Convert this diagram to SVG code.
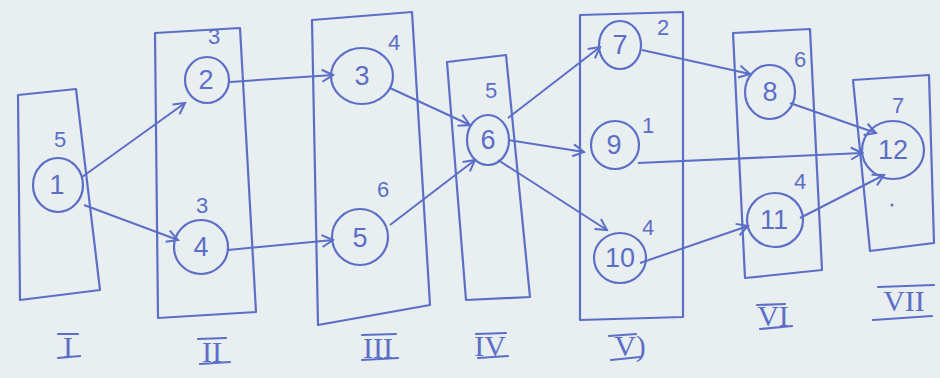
<svg xmlns="http://www.w3.org/2000/svg" width="940" height="378" viewBox="0 0 940 378">
<defs>
<style>
.ink{fill:none;stroke:#5b6fc6;stroke-width:2.2;stroke-linecap:round;stroke-linejoin:round}
.node{fill:none;stroke:#5b6fc6;stroke-width:2.2}
.lbl{font-family:"Liberation Sans",Arial,sans-serif;font-size:27px;fill:#5b6fc6;text-anchor:middle;dominant-baseline:central}
.w{font-family:"Liberation Sans",Arial,sans-serif;font-size:22px;fill:#5b6fc6;text-anchor:middle}
.rom{font-family:"Liberation Serif","Times New Roman",serif;font-size:30px;fill:#5b6fc6;text-anchor:middle}
.edge{fill:none;stroke:#5b6fc6;stroke-width:2;marker-end:url(#ah)}
</style>
<marker id="ah" viewBox="0 0 14 14" refX="12" refY="7" markerWidth="14" markerHeight="14" markerUnits="userSpaceOnUse" orient="auto">
<path d="M1,1 L12,7 L1,13" fill="none" stroke="#5b6fc6" stroke-width="2"/>
</marker>
</defs>
<rect width="940" height="378" fill="#e9eef1"/>

<g id="stages">
<polygon class="ink" points="18,95 76,89 100,290 20,300"/>
<polygon class="ink" points="155,33 240,28 256,312 158,318"/>
<polygon class="ink" points="312,20 412,12 430,305 318,325"/>
<polygon class="ink" points="447,62 506,55 530,297 466,300"/>
<polygon class="ink" points="580,15 683,12 683,317 580,320"/>
<polygon class="ink" points="733,33 810,29 822,270 745,278"/>
<polygon class="ink" points="853,80 929,75 934,243 870,251"/>
</g>

<g id="stage-labels">
<text class="rom" x="68" y="357">I</text>
<line class="ink" x1="58" y1="334" x2="78" y2="334"/><line class="ink" x1="58" y1="358" x2="80" y2="356"/>
<text class="rom" x="212" y="362">II</text>
<line class="ink" x1="198" y1="339" x2="226" y2="338"/><line class="ink" x1="200" y1="364" x2="230" y2="362"/>
<text class="rom" x="378" y="358">III</text>
<line class="ink" x1="362" y1="335" x2="396" y2="334"/><line class="ink" x1="362" y1="360" x2="398" y2="358"/>
<text class="rom" x="490" y="356">IV</text>
<line class="ink" x1="476" y1="334" x2="506" y2="333"/><line class="ink" x1="478" y1="358" x2="508" y2="356"/>
<text class="rom" x="630" y="356">V)</text>
<line class="ink" x1="609" y1="336" x2="636" y2="334"/><line class="ink" x1="611" y1="360" x2="640" y2="357"/>
<text class="rom" x="773" y="326">VI</text>
<line class="ink" x1="757" y1="305" x2="785" y2="304"/><line class="ink" x1="760" y1="329" x2="792" y2="326"/>
<text class="rom" x="904" y="311">VII</text>
<line class="ink" x1="878" y1="287" x2="934" y2="285"/><line class="ink" x1="873" y1="320" x2="932" y2="316"/>
</g>

<g id="connectors">
<line class="edge" x1="82" y1="177" x2="185" y2="103"/>
<line class="edge" x1="84" y1="205" x2="178" y2="240"/>
<line class="edge" x1="230" y1="82" x2="333" y2="75"/>
<line class="edge" x1="228" y1="250" x2="333" y2="240"/>
<line class="edge" x1="390" y1="88" x2="470" y2="125"/>
<line class="edge" x1="390" y1="225" x2="475" y2="160"/>
<line class="edge" x1="508" y1="118" x2="600" y2="47"/>
<line class="edge" x1="508" y1="140" x2="584" y2="152"/>
<line class="edge" x1="498" y1="160" x2="607" y2="230"/>
<line class="edge" x1="642" y1="50" x2="750" y2="74"/>
<line class="edge" x1="638" y1="163" x2="862" y2="153"/>
<line class="edge" x1="790" y1="103" x2="876" y2="133"/>
<line class="edge" x1="640" y1="263" x2="748" y2="226"/>
<line class="edge" x1="800" y1="218" x2="884" y2="175"/>
</g>

<g id="n1"><ellipse class="node" cx="58" cy="185" rx="25" ry="27"/><text class="lbl" x="57" y="185">1</text><text class="w" x="60" y="147">5</text></g>
<g id="n2"><ellipse class="node" cx="207" cy="80" rx="22" ry="23"/><text class="lbl" x="206" y="80">2</text><text class="w" x="214" y="44">3</text></g>
<g id="n4"><ellipse class="node" cx="201" cy="247" rx="27" ry="27"/><text class="lbl" x="201" y="247">4</text><text class="w" x="202" y="213">3</text></g>
<g id="n3"><ellipse class="node" cx="362" cy="76" rx="31" ry="28"/><text class="lbl" x="362" y="76">3</text><text class="w" x="394" y="50">4</text></g>
<g id="n5"><ellipse class="node" cx="360" cy="237" rx="28" ry="28"/><text class="lbl" x="360" y="238">5</text><text class="w" x="383" y="197">6</text></g>
<g id="n6"><ellipse class="node" cx="488" cy="140" rx="21" ry="25"/><text class="lbl" x="488" y="140">6</text><text class="w" x="491" y="98">5</text></g>
<g id="n7"><ellipse class="node" cx="620" cy="45" rx="21" ry="24"/><text class="lbl" x="620" y="45">7</text><text class="w" x="663" y="35">2</text></g>
<g id="n9"><ellipse class="node" cx="615" cy="145" rx="24" ry="24"/><text class="lbl" x="614" y="145">9</text><text class="w" x="648" y="133">1</text></g>
<g id="n10"><ellipse class="node" cx="620" cy="258" rx="26" ry="25"/><text class="lbl" x="620" y="258">10</text><text class="w" x="648" y="235">4</text></g>
<g id="n8"><ellipse class="node" cx="770" cy="92" rx="25" ry="27"/><text class="lbl" x="770" y="92">8</text><text class="w" x="800" y="67">6</text></g>
<g id="n11"><ellipse class="node" cx="775" cy="220" rx="28" ry="27"/><text class="lbl" x="774" y="220">11</text><text class="w" x="800" y="189">4</text></g>
<g id="n12"><ellipse class="node" cx="893" cy="150" rx="31" ry="29"/><text class="lbl" x="893" y="150">12</text><text class="w" x="898" y="113">7</text><circle cx="892" cy="205" r="1.5" fill="#5b6fc6"/></g>
</svg>
